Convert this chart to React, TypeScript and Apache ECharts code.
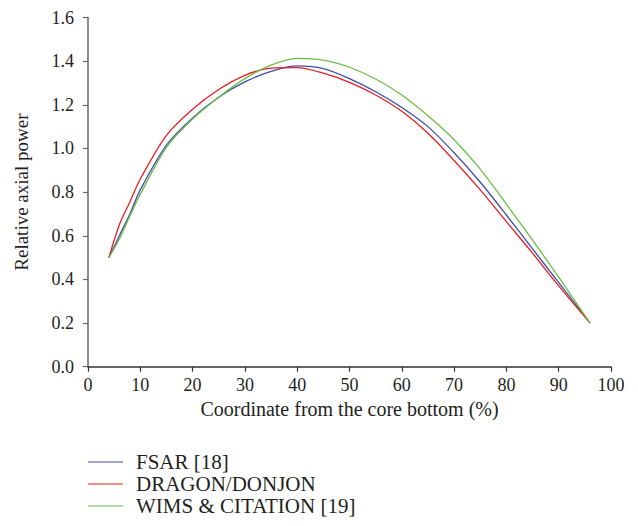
import React, { useEffect, useRef } from "react";
import * as echarts from "echarts";

const xCoord = [4, 6, 8, 10, 15, 20, 25, 30, 35, 40, 45, 50, 55, 60, 65, 70, 75, 80, 85, 90, 96];
const fsar = [0.5, 0.6, 0.7, 0.81, 1.015, 1.14, 1.235, 1.305, 1.353, 1.378, 1.366, 1.32, 1.26, 1.188, 1.1, 0.98, 0.845, 0.695, 0.54, 0.385, 0.2];
const dragon = [0.5, 0.65, 0.755, 0.86, 1.06, 1.18, 1.27, 1.335, 1.368, 1.37, 1.345, 1.303, 1.245, 1.17, 1.07, 0.945, 0.81, 0.665, 0.52, 0.37, 0.2];
const wims = [0.5, 0.585, 0.69, 0.79, 1.005, 1.135, 1.235, 1.32, 1.382, 1.413, 1.405, 1.372, 1.318, 1.245, 1.15, 1.04, 0.905, 0.745, 0.58, 0.41, 0.2];

const seriesNames = ["FSAR [18]", "DRAGON/DONJON", "WIMS & CITATION [19]"];
const seriesColors = ["#3d4fa3", "#ed1c24", "#6abd45"];
const seriesValues = [fsar, dragon, wims];

const FONT = "Liberation Serif";
const TEXT = "#231f20";

export default function App() {
  const ref = useRef<HTMLDivElement>(null);
  useEffect(() => {
    if (!ref.current) return;
    const chart = echarts.init(ref.current, undefined, { renderer: "svg" });
    chart.setOption({
      animation: false,
      backgroundColor: "#ffffff",
      textStyle: { fontFamily: FONT, color: TEXT },
      grid: { left: 88, right: 27, top: 17.5, bottom: 159.3, containLabel: false },
      xAxis: {
        type: "value",
        min: 0,
        max: 100,
        interval: 10,
        name: "Coordinate from the core bottom (%)",
        nameLocation: "middle",
        nameGap: 32,
        nameTextStyle: { fontFamily: FONT, fontSize: 20, color: TEXT },
        axisLine: { show: true, lineStyle: { color: "#333333", width: 1.5 } },
        axisTick: { show: true, length: 5, lineStyle: { color: "#333333", width: 1.2 } },
        axisLabel: { fontFamily: FONT, fontSize: 18, color: TEXT, margin: 9 },
        splitLine: { show: false },
      },
      yAxis: {
        type: "value",
        min: 0,
        max: 1.6,
        interval: 0.2,
        name: "Relative axial power",
        nameLocation: "middle",
        nameGap: 57,
        nameRotate: 90,
        nameTextStyle: { fontFamily: FONT, fontSize: 19, color: TEXT },
        axisLine: { show: true, lineStyle: { color: "#666666", width: 1.5 } },
        axisTick: { show: true, length: 5, lineStyle: { color: "#666666", width: 1.2 } },
        axisLabel: {
          fontFamily: FONT,
          fontSize: 18,
          color: TEXT,
          margin: 14,
          formatter: (v: number) => v.toFixed(1),
        },
        splitLine: { show: false },
      },
      legend: {
        orient: "vertical",
        left: 88,
        top: 451,
        padding: 0,
        height: 75,
        itemWidth: 35,
        itemHeight: 14,
        itemGap: 0,
        icon: "path://M0,0 L35,0 L35,1 L0,1 Z",
        textStyle: { fontFamily: FONT, fontSize: 21, color: TEXT, lineHeight: 22, padding: [0, 0, 0, 8] },
        data: seriesNames,
      },
      series: seriesNames.map((name, i) => ({
        name,
        type: "line",
        smooth: 0.3,
        symbol: "none",
        color: seriesColors[i],
        lineStyle: { color: seriesColors[i], width: 1.3 },
        data: xCoord.map((x, j) => [x, seriesValues[i][j]]),
      })),
    });
    return () => chart.dispose();
  }, []);
  return <div ref={ref} style={{ position: "fixed", left: 0, top: 0, width: 638, height: 526 }} />;
}
